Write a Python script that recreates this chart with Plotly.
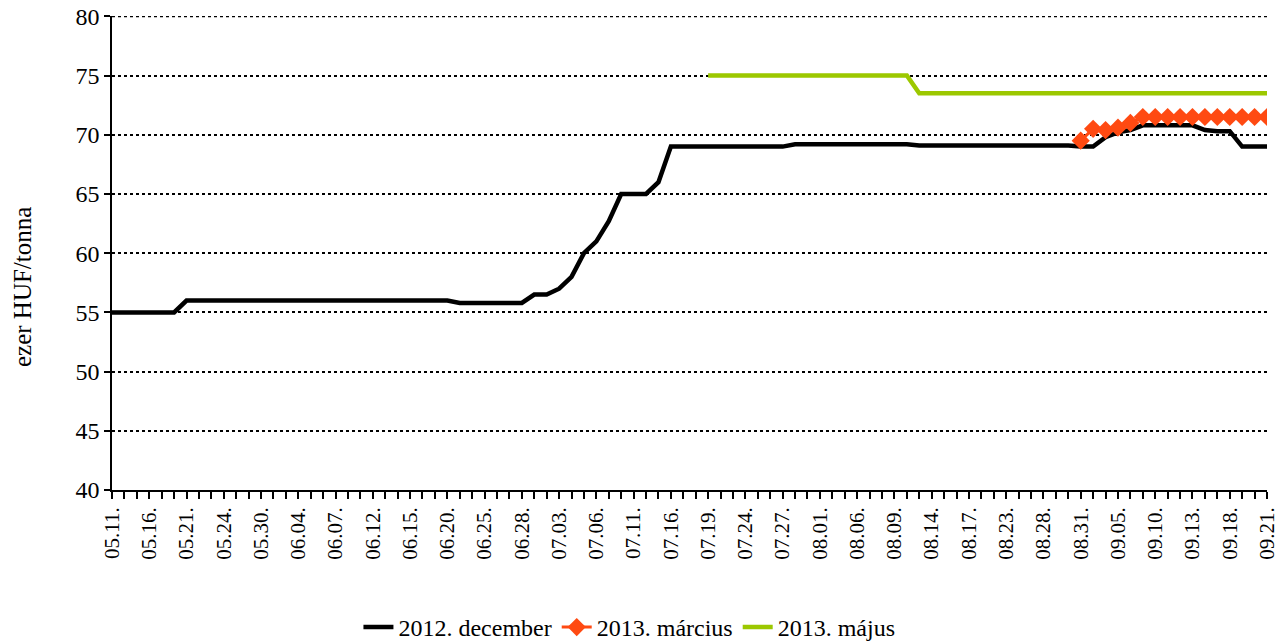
import plotly.graph_objects as go

# trading days (2012), every 3rd one is labelled on the axis
dates = [
    "05.11.", "05.14.", "05.15.", "05.16.", "05.17.", "05.18.", "05.21.", "05.22.", "05.23.", "05.24.",
    "05.25.", "05.29.", "05.30.", "05.31.", "06.01.", "06.04.", "06.05.", "06.06.", "06.07.", "06.08.",
    "06.11.", "06.12.", "06.13.", "06.14.", "06.15.", "06.18.", "06.19.", "06.20.", "06.21.", "06.22.",
    "06.25.", "06.26.", "06.27.", "06.28.", "06.29.", "07.02.", "07.03.", "07.04.", "07.05.", "07.06.",
    "07.09.", "07.10.", "07.11.", "07.12.", "07.13.", "07.16.", "07.17.", "07.18.", "07.19.", "07.20.",
    "07.23.", "07.24.", "07.25.", "07.26.", "07.27.", "07.30.", "07.31.", "08.01.", "08.02.", "08.03.",
    "08.06.", "08.07.", "08.08.", "08.09.", "08.10.", "08.13.", "08.14.", "08.15.", "08.16.", "08.17.",
    "08.21.", "08.22.", "08.23.", "08.24.", "08.27.", "08.28.", "08.29.", "08.30.", "08.31.", "09.03.",
    "09.04.", "09.05.", "09.06.", "09.07.", "09.10.", "09.11.", "09.12.", "09.13.", "09.14.", "09.17.",
    "09.18.", "09.19.", "09.20.", "09.21.",
]

dec_2012 = (
    [55] * 6
    + [56] * 22
    + [55.8] * 6
    + [56.5, 56.5, 57, 58, 60, 61, 62.7, 65, 65, 65, 66, 69]
    + [69] * 9
    + [69.2] * 10
    + [69.1] * 13
    + [69, 69, 69.8, 70.2, 70.4]
    + [70.8] * 5
    + [70.4, 70.3, 70.3]
    + [69] * 3
)

mar_2013 = [None] * 78 + [69.5, 70.5, 70.4, 70.6, 71.0] + [71.5] * 11

maj_2013 = [None] * 48 + [75] * 17 + [73.5] * 29

y_max = 80

tick_text = [d if i % 3 == 0 else "" for i, d in enumerate(dates)]

FONT = "Liberation Serif, Times New Roman, serif"

fig = go.Figure()
fig.add_trace(go.Scatter(
    x=dates, y=dec_2012, name="2012. december", mode="lines",
    line=dict(color="#000000", width=4.5),
))
fig.add_trace(go.Scatter(
    x=dates, y=mar_2013, name="2013. március", mode="lines+markers",
    line=dict(color="#FF4A12", width=3),
    marker=dict(symbol="diamond", size=14, color="#FF4A12"),
))
fig.add_trace(go.Scatter(
    x=dates, y=maj_2013, name="2013. május", mode="lines",
    line=dict(color="#9CC800", width=4.5),
))

# plotly drops the gridline on the top edge, draw it by hand
fig.add_hline(y=y_max, line=dict(color="black", width=2, dash="dot"), layer="below")

# y title sits a bit below the middle of the axis, like the original
fig.add_annotation(
    text="ezer HUF/tonna", textangle=-90,
    xref="paper", yref="paper", x=-0.078, y=0.428,
    xanchor="center", yanchor="middle", showarrow=False,
    font=dict(size=25),
)

fig.update_layout(
    width=1287, height=643,
    margin=dict(l=112, r=20, t=16, b=153, autoexpand=False),
    paper_bgcolor="white", plot_bgcolor="white",
    font=dict(family=FONT, size=22, color="black"),
    showlegend=True,
    legend=dict(
        orientation="h", x=0.448, xanchor="center", y=-0.29, yanchor="middle",
        font=dict(size=24), itemwidth=30, tracegroupgap=0,
    ),
    xaxis=dict(
        type="category", range=[0, len(dates) - 1],
        tickmode="array", tickvals=dates, ticktext=tick_text,
        tickangle=-90, ticks="outside", ticklen=7, tickwidth=1.5, tickcolor="black",
        showline=True, linecolor="black", linewidth=1.5,
        showgrid=False, zeroline=False,
        tickfont=dict(size=21),
    ),
    yaxis=dict(
        range=[40, y_max + 0.03], dtick=5, tick0=40,
        ticks="outside", ticklen=6, tickwidth=1.5, tickcolor="black",
        showline=True, linecolor="black", linewidth=1.5,
        showgrid=True, gridcolor="black", gridwidth=2, griddash="dot",
        zeroline=False, ticklabeloverflow="allow",
        tickfont=dict(size=24),
    ),
)

# drop the default 8px body margin so the figure fills the window
fig.write_html(
    "out.html",
    config={"displayModeBar": False},
    post_script="document.body.style.margin = '0';",
)
